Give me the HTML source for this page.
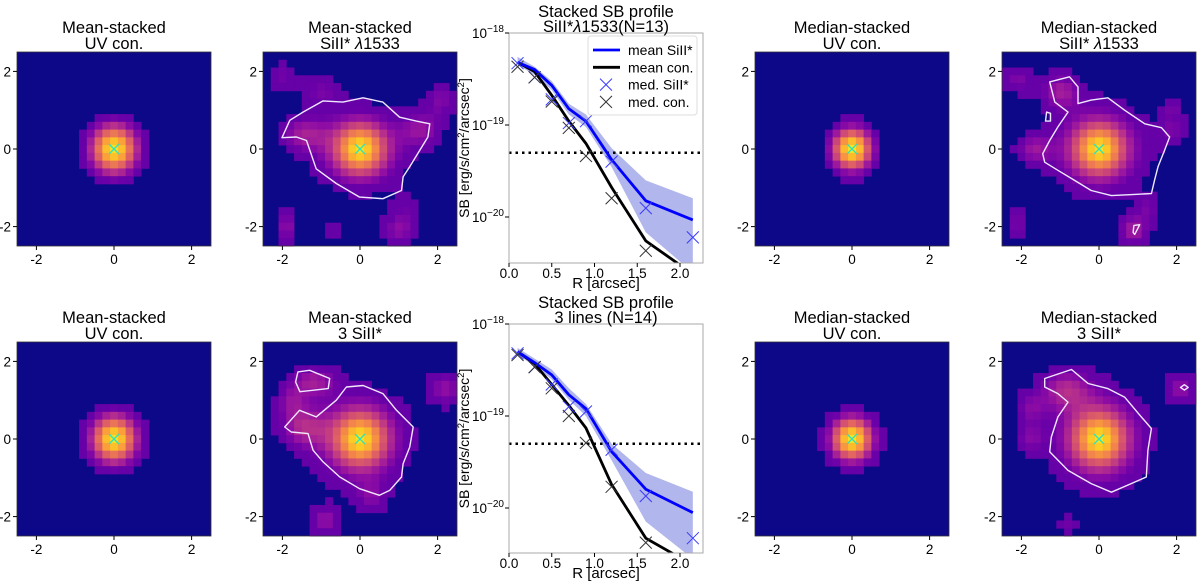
<!DOCTYPE html>
<html><head><meta charset="utf-8"><style>
body{margin:0;background:#fff;}
svg{display:block;font-family:"Liberation Sans",sans-serif;}
</style></head><body>
<svg id="fig" width="1200" height="585" viewBox="0 0 1200 585" xmlns="http://www.w3.org/2000/svg"></svg>
<script>
// ---------- profile data (R in arcsec, SB in erg/s/cm2/arcsec2) ----------
const radii = [0.1,0.3,0.5,0.7,0.9,1.2,1.6,2.15];
const radiiMedCon = [0.1,0.3,0.5,0.7,0.9,1.2,1.6];
const top_meanSi = [4.8e-19,4.0e-19,2.7e-19,1.5e-19,1.1e-19,4.2e-20,1.5e-20,9.3e-21];
const top_meanCon = [4.8e-19,3.8e-19,2.1e-19,1.1e-19,6.3e-20,2.1e-20,5.5e-21,2.4e-21];
const top_bandHi = [5.5e-19,4.3e-19,3.0e-19,1.7e-19,1.3e-19,5.6e-20,2.5e-20,1.6e-20];
const top_bandLo = [4.5e-19,3.5e-19,2.4e-19,1.3e-19,9.5e-20,3.5e-20,6.8e-21,2.5e-21];
const top_medSi = [4.7e-19,3.3e-19,1.9e-19,1.05e-19,1.1e-19,4.0e-20,1.25e-20,6.0e-21];
const top_medCon = [4.3e-19,3.3e-19,1.8e-19,9.3e-20,4.6e-20,1.6e-20,4.3e-21];
const bot_meanSi = [5.0e-19,3.8e-19,2.8e-19,1.7e-19,1.2e-19,4.1e-20,1.6e-20,8.9e-21];
const bot_meanCon = [5.0e-19,3.7e-19,2.2e-19,1.3e-19,7.4e-20,1.8e-20,4.7e-21,2.4e-21];
const bot_bandHi = [5.5e-19,4.2e-19,3.2e-19,2.0e-19,1.35e-19,5.0e-20,2.4e-20,1.5e-20];
const bot_bandLo = [4.6e-19,3.5e-19,2.5e-19,1.5e-19,1.0e-19,3.3e-20,7.1e-21,2.8e-21];
const bot_medSi = [4.8e-19,3.4e-19,2.2e-19,1.26e-19,1.12e-19,4.3e-20,1.35e-20,4.7e-21];
const bot_medCon = [4.6e-19,3.4e-19,2.0e-19,1.0e-19,5.1e-20,1.7e-20,4.2e-21];
const threshold = 5e-20;
const xTicks = [0.0,0.5,1.0,1.5,2.0];
const xTickLabels = ["0.0","0.5","1.0","1.5","2.0"];
const yTickExps = [-18,-19,-20];
const imgTicks = [-2,0,2];
const imgTickLabels = ["-2","0","2"];

// ---------- image blob components [cx, cy, sx, sy, amp] ----------
const blobs_meanUV = [[0,0,0.45,0.47,0.95]];
const blobs_meanSi = [[0,0,0.42,0.42,0.5],[0,0,0.8,0.72,0.45],[-1.5,0.4,0.45,0.35,0.3],[1.6,0.5,0.4,0.35,0.28],[2.1,1.3,0.3,0.35,0.25],[-1.0,1.5,0.4,0.3,0.22],[-2.0,1.9,0.3,0.3,0.22],[-1.9,-2.0,0.2,0.35,0.3],[1.0,-2.1,0.35,0.3,0.28],[-0.7,-2.2,0.2,0.2,0.2],[1.2,-1.5,0.3,0.3,0.15]];
const blobs_medUV = [[0,0,0.38,0.4,0.97]];
const blobs_medSi = [[0,0,0.42,0.42,0.5],[0,0,0.85,0.8,0.45],[-1.0,1.5,0.4,0.35,0.32],[-2.1,1.8,0.3,0.3,0.25],[-1.7,0.0,0.35,0.3,0.28],[1.9,0.5,0.3,0.3,0.22],[1.9,1.1,0.2,0.2,0.2],[-2.1,-1.9,0.2,0.35,0.25],[0.9,-2.1,0.3,0.3,0.35],[1.3,-1.5,0.25,0.25,0.2]];
const blobs_meanUV2 = [[0,0,0.44,0.46,0.95]];
const blobs_meanSi3 = [[0,0,0.45,0.45,0.5],[0,0,0.85,0.85,0.45],[-1.5,0.3,0.45,0.4,0.32],[-1.2,1.5,0.45,0.3,0.32],[-1.8,1.0,0.3,0.3,0.22],[2.2,1.3,0.35,0.35,0.3],[-0.9,-2.1,0.3,0.3,0.3],[0.3,-1.5,0.3,0.3,0.2]];
const blobs_medUV2 = [[0,0,0.4,0.42,0.96]];
const blobs_medSi3 = [[0,0,0.45,0.45,0.5],[0,0,0.85,0.9,0.45],[-0.9,1.3,0.5,0.4,0.32],[-1.8,0.8,0.3,0.3,0.22],[-1.8,0.0,0.3,0.3,0.22],[2.1,1.3,0.3,0.3,0.3],[-0.8,-2.2,0.2,0.2,0.2]];

// ---------- contours (arcsec) ----------
const contour_meanSi = [[-0.95,1.24],[-0.44,1.21],[0.08,1.32],[0.59,1.21],[1.02,0.82],[1.45,0.72],[1.8,0.65],[1.75,0.31],[1.28,-0.46],[1.11,-0.72],[1.07,-1.07],[0.59,-1.28],[-0.01,-1.24],[-0.61,-0.89],[-1.13,-0.51],[-1.38,0.22],[-1.64,0.31],[-2.01,0.29],[-1.81,0.74],[-1.47,0.95]];
const contour_medSi = [[-1.27,1.73],[-0.76,1.86],[-0.54,1.6],[-0.54,1.17],[-0.2,1.26],[0.23,1.32],[0.66,1.0],[1.18,0.65],[1.61,0.55],[1.82,0.31],[1.69,-0.03],[1.52,-0.46],[1.43,-0.81],[1.35,-1.15],[0.92,-1.17],[0.32,-1.2],[-0.2,-1.07],[-0.63,-0.81],[-1.06,-0.55],[-1.4,-0.34],[-1.45,-0.12],[-1.27,0.22],[-1.06,0.57],[-0.8,0.95],[-1.14,1.21]];
const contour_medSi_b = [[-1.35,0.95],[-1.25,0.92],[-1.25,0.72],[-1.38,0.72]];
const contour_medSi_c = [[0.9,-1.97],[1.05,-1.95],[0.92,-2.2],[0.88,-2.15]];
const contour_meanSi3 = [[-1.94,0.31],[-1.56,0.74],[-1.13,0.57],[-0.61,1.0],[-0.35,1.34],[0.08,1.38],[0.59,1.17],[0.94,0.74],[1.37,0.31],[1.28,-0.21],[1.11,-0.64],[1.07,-0.98],[0.77,-1.32],[0.5,-1.45],[-0.01,-1.28],[-0.52,-0.98],[-0.95,-0.59],[-1.21,-0.29],[-1.34,0.14],[-1.77,0.18]];
const contour_meanSi3_b = [[-1.6,1.73],[-1.3,1.77],[-0.78,1.56],[-0.82,1.3],[-1.55,1.22],[-1.66,1.47]];
const contour_medSi3 = [[-1.4,1.56],[-0.71,1.79],[-0.28,1.43],[0.23,1.3],[0.66,1.08],[1.09,0.57],[1.35,0.27],[1.26,-0.29],[1.22,-0.98],[0.83,-1.15],[0.32,-1.37],[-0.2,-1.15],[-0.8,-0.81],[-1.27,-0.33],[-1.23,0.05],[-1.06,0.57],[-0.8,0.95],[-1.06,1.17],[-1.4,1.34]];
const contour_medSi3_b = [[2.1,1.33],[2.2,1.4],[2.3,1.33],[2.2,1.26]];

const NS="http://www.w3.org/2000/svg";
const svg=document.getElementById('fig');
function mk(tag,attrs,parent){const e=document.createElementNS(NS,tag);for(const k in attrs)e.setAttribute(k,attrs[k]);(parent||svg).appendChild(e);return e;}

const plasma=[[13,8,135],[65,4,157],[106,0,168],[143,13,164],[177,42,144],[204,71,120],[225,100,98],[242,132,75],[252,166,54],[252,206,37],[240,249,33]];
function cmap(v){v=Math.max(0,Math.min(1,v))*10;const i=Math.min(9,Math.floor(v));const f=v-i;const a=plasma[i],b=plasma[i+1];
 return `rgb(${Math.round(a[0]+(b[0]-a[0])*f)},${Math.round(a[1]+(b[1]-a[1])*f)},${Math.round(a[2]+(b[2]-a[2])*f)})`;}

function titleText(cx,y1,y2,l1,l2,name){
 const t1=mk('text',{x:cx,y:y1,'text-anchor':'middle','font-size':16.5,fill:'#000'});t1.innerHTML=l1;
 
 const t2=mk('text',{x:cx,y:y2,'text-anchor':'middle','font-size':16.5,fill:'#000'});t2.innerHTML=l2;
 
}

function imagePanel(x0,y0,blobs,contours,name,l1,l2){
 const S=194, u=S/5;
 const g=mk('g',{});
 
 
 const sx=a=>x0+(a+2.5)*u, sy=b=>y0+(2.5-b)*u;
 mk('rect',{x:x0,y:y0,width:S,height:S,fill:cmap(0)},g);
 const n=25,c=S/n;
 for(let i=0;i<n;i++)for(let j=0;j<n;j++){
  const px=-2.5+0.2*(i+0.5), py=2.5-0.2*(j+0.5);
  let v=0;for(const b of blobs){v+=b[4]*Math.exp(-((px-b[0])**2/(2*b[2]*b[2])+(py-b[1])**2/(2*b[3]*b[3])));}
  if(v<0.11)continue;
  const r=mk('rect',{x:(x0+i*c).toFixed(2),y:(y0+j*c).toFixed(2),width:(c+0.4).toFixed(2),height:(c+0.4).toFixed(2),fill:cmap(Math.max(v,0.19))},g);
  
  
 }
 for(const ct of contours){
  const p=mk('polygon',{points:ct.map(q=>sx(q[0]).toFixed(1)+','+sy(q[1]).toFixed(1)).join(' '),fill:'none',stroke:'#f0e8ff','stroke-width':1.4,'stroke-linejoin':'round'},g);
  
  
 }
 const cx=sx(0),cy=sy(0);
 const m=mk('path',{d:`M${cx-5},${cy-5}L${cx+5},${cy+5}M${cx-5},${cy+5}L${cx+5},${cy-5}`,stroke:'#30e0c0','stroke-width':1.3},g);
 
 
 mk('rect',{x:x0,y:y0,width:S,height:S,fill:'none',stroke:'#333','stroke-width':0.8},g);
 imgTicks.forEach((t,k)=>{
  mk('line',{x1:sx(t),x2:sx(t),y1:y0+S,y2:y0+S+4,stroke:'#000'},g);
  const tx=mk('text',{x:sx(t),y:y0+S+18,'text-anchor':'middle','font-size':13.5},g);tx.textContent=imgTickLabels[k];
  
  
  mk('line',{x1:x0-4,x2:x0,y1:sy(t),y2:sy(t),stroke:'#000'},g);
  const ty=mk('text',{x:x0-6,y:sy(t)+5,'text-anchor':'end','font-size':13.5},g);ty.textContent=imgTickLabels[k];
  
  
 });
 titleText(x0+S/2,y0-19,y0-3,l1,l2,name+'-title');
}

function profilePanel(x0,y0,H,d,name,l1,l2){
 const W=194;
 const g=mk('g',{});
 
 
 const xs=r=>x0+r*85.5;
 const ys=v=>y0+(-18-Math.log10(v))*92;
 const cid='clip-'+name;
 const cp=mk('clipPath',{id:cid},g);mk('rect',{x:x0,y:y0,width:W,height:H},cp);
 const inner=mk('g',{'clip-path':`url(#${cid})`},g);
 const band=mk('polygon',{points:radii.map((r,i)=>xs(r)+','+ys(d.hi[i])).concat(radii.slice().reverse().map((r,k)=>xs(r)+','+ys(d.lo[radii.length-1-k]))).join(' '),fill:'rgba(70,80,210,0.42)'},inner);
 
 
 const thr=mk('line',{x1:x0,x2:x0+W,y1:ys(threshold),y2:ys(threshold),stroke:'#000','stroke-width':2.5,'stroke-dasharray':'2.5 4'},inner);
 
 
 const lc=mk('polyline',{points:radii.map((r,i)=>xs(r)+','+ys(d.meanCon[i])).join(' '),fill:'none',stroke:'#000','stroke-width':2.8},inner);
 
 
 const ls=mk('polyline',{points:radii.map((r,i)=>xs(r)+','+ys(d.meanSi[i])).join(' '),fill:'none',stroke:'#0000ff','stroke-width':2.8},inner);
 
 
 function cross(x,y,col,nm){const p=mk('path',{d:`M${x-6},${y-6}L${x+6},${y+6}M${x-6},${y+6}L${x+6},${y-6}`,stroke:col,'stroke-width':1},inner);
  }
 radii.forEach((r,i)=>cross(xs(r),ys(d.medSi[i]),'#3a3aff','med-siii-marker'));
 radiiMedCon.forEach((r,i)=>cross(xs(r),ys(d.medCon[i]),'#333','med-con-marker'));
 mk('rect',{x:x0,y:y0,width:W,height:H,fill:'none',stroke:'#aaa','stroke-width':1},g);
 xTicks.forEach((t,k)=>{
  mk('line',{x1:xs(t),x2:xs(t),y1:y0+H,y2:y0+H+4,stroke:'#000'},g);
  const tx=mk('text',{x:xs(t),y:y0+H+15,'text-anchor':'middle','font-size':13.5},g);tx.textContent=xTickLabels[k];
  
  
 });
 yTickExps.forEach(e=>{
  const y=ys(Math.pow(10,e));
  mk('line',{x1:x0-4,x2:x0,y1:y,y2:y,stroke:'#000'},g);
  const ty=mk('text',{x:x0-5,y:y+5,'text-anchor':'end','font-size':13.5},g);
  ty.innerHTML=`10<tspan dy="-6" font-size="10">−${-e}</tspan>`;
  
  
 });
 const xl=mk('text',{x:x0+W/2,y:y0+H+25,'text-anchor':'middle','font-size':15},g);xl.textContent='R [arcsec]';
 
 
 const yl=mk('text',{x:0,y:0,'text-anchor':'middle','font-size':14,transform:`translate(${x0-40},${y0+H/2}) rotate(-90)`},g);
 yl.innerHTML='SB [erg/s/cm<tspan dy="-5" font-size="9.5">2</tspan><tspan dy="5">/arcsec</tspan><tspan dy="-5" font-size="9.5">2</tspan><tspan dy="5">]</tspan>';
 
 
 titleText(x0+W/2,y0-16,y0-1,l1,l2,name+'-title');
 return {xs,ys};
}

imagePanel(17,52,blobs_meanUV,[],'mean-uv-panel-top','Mean-stacked','UV con.');
imagePanel(263,52,blobs_meanSi,[contour_meanSi],'mean-siii-panel-top','Mean-stacked','SiII* <tspan font-style="italic">λ</tspan>1533');
imagePanel(755,52,blobs_medUV,[],'median-uv-panel-top','Median-stacked','UV con.');
imagePanel(1002,52,blobs_medSi,[contour_medSi,contour_medSi_b,contour_medSi_c],'median-siii-panel-top','Median-stacked','SiII* <tspan font-style="italic">λ</tspan>1533');
imagePanel(17,342,blobs_meanUV2,[],'mean-uv-panel-bottom','Mean-stacked','UV con.');
imagePanel(263,342,blobs_meanSi3,[contour_meanSi3,contour_meanSi3_b],'mean-3siii-panel-bottom','Mean-stacked','3 SiII*');
imagePanel(755,342,blobs_medUV2,[],'median-uv-panel-bottom','Median-stacked','UV con.');
imagePanel(1002,342,blobs_medSi3,[contour_medSi3,contour_medSi3_b],'median-3siii-panel-bottom','Median-stacked','3 SiII*');

profilePanel(509,33,230,{meanSi:top_meanSi,meanCon:top_meanCon,hi:top_bandHi,lo:top_bandLo,medSi:top_medSi,medCon:top_medCon},'profile-top','Stacked SB profile','SiII*<tspan font-style="italic">λ</tspan>1533(N=13)');
profilePanel(509,324,229,{meanSi:bot_meanSi,meanCon:bot_meanCon,hi:bot_bandHi,lo:bot_bandLo,medSi:bot_medSi,medCon:bot_medCon},'profile-bottom','Stacked SB profile','3 lines (N=14)');

// legend (top profile)
const lg=mk('g',{});


mk('rect',{x:588,y:36,width:109,height:79,rx:3,fill:'rgba(255,255,255,0.85)',stroke:'#ddd'},lg);
const legItems=[['line','#0000ff','mean SiII*'],['line','#000','mean con.'],['x','#3a3aff','med. SiII*'],['x','#333','med. con.']];
legItems.forEach((it,i)=>{
 const y=50+i*17.3;
 if(it[0]==='line')mk('line',{x1:593,x2:620,y1:y,y2:y,stroke:it[1],'stroke-width':2.8},lg);
 else mk('path',{d:`M${600},${y-6}L${612},${y+6}M${600},${y+6}L${612},${y-6}`,stroke:it[1],'stroke-width':1},lg);
 const t=mk('text',{x:628,y:y+5,'font-size':14},lg);t.textContent=it[2];
 
 
});
</script>
</body></html>
